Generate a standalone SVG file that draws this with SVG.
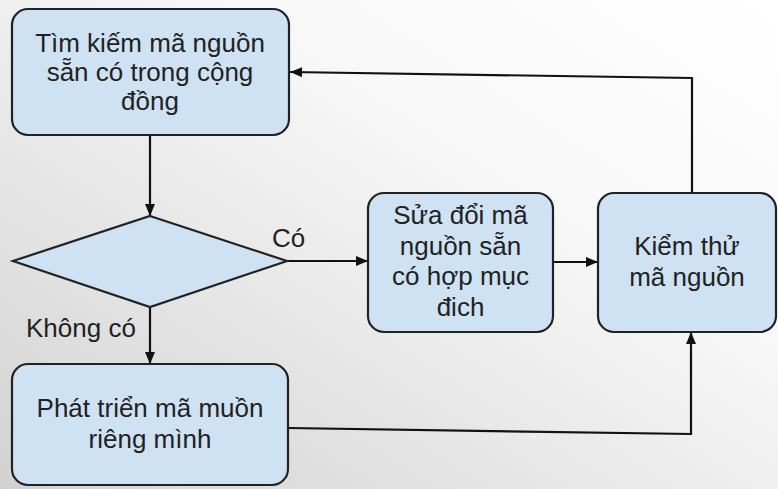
<svg xmlns="http://www.w3.org/2000/svg" width="778" height="489" viewBox="0 0 778 489">
<defs>
<linearGradient id="bg" x1="1" y1="0" x2="0" y2="1">
<stop offset="0" stop-color="#ffffff"/>
<stop offset="0.35" stop-color="#f8f8f8"/>
<stop offset="1" stop-color="#d2d2d2"/>
</linearGradient>
<marker id="arr" viewBox="0 0 12 10" refX="12" refY="5" markerWidth="12" markerHeight="10" markerUnits="userSpaceOnUse" orient="auto">
<path d="M0,0 L12,5 L0,10 Z" fill="#111"/>
</marker>
<style>
.node{fill:#cfe2f3;stroke:#222;stroke-width:2.2}
.t{font-family:"Liberation Sans",Arial,sans-serif;font-size:26px;fill:#222;text-anchor:middle}
.lbl{font-family:"Liberation Sans",Arial,sans-serif;font-size:26px;fill:#222}
.c{fill:none;stroke:#111;stroke-width:2.2}
</style>
</defs>
<rect width="778" height="489" fill="url(#bg)"/>
<g id="connectors">
<path class="c" d="M150,135 L150,216" marker-end="url(#arr)"/>
<path class="c" d="M287,261 L368,261" marker-end="url(#arr)"/>
<path class="c" d="M553,262 L598,262" marker-end="url(#arr)"/>
<path class="c" d="M150,307 L150,364" marker-end="url(#arr)"/>
<path class="c" d="M692,193 L692,78 L290,72" marker-end="url(#arr)"/>
<path class="c" d="M288,428 L691,434 L691,332" marker-end="url(#arr)"/>
</g>
<g id="n1">
<rect class="node" x="12" y="9" width="277" height="126" rx="16"/>
<text class="t" x="150" y="52">Tìm kiếm mã nguồn</text>
<text class="t" x="150" y="81">sẵn có trong cộng</text>
<text class="t" x="150" y="110">đồng</text>
</g>
<g id="decision">
<polygon class="node" points="150,216 287,261 150,307 13,261"/>
</g>
<g id="labels">
<text class="lbl" x="272" y="247">Có</text>
<text class="lbl" x="26" y="337">Không có</text>
</g>
<g id="n2">
<rect class="node" x="368" y="193" width="185" height="139" rx="16"/>
<text class="t" x="460.5" y="224">Sửa đổi mã</text>
<text class="t" x="460.5" y="254.5">nguồn sẵn</text>
<text class="t" x="460.5" y="285">có hợp mục</text>
<text class="t" x="460.5" y="315.5">đich</text>
</g>
<g id="n3">
<rect class="node" x="598" y="193" width="178" height="139" rx="16"/>
<text class="t" x="687" y="255">Kiểm thử</text>
<text class="t" x="687" y="286">mã nguồn</text>
</g>
<g id="n4">
<rect class="node" x="12" y="364" width="276" height="121" rx="16"/>
<text class="t" x="150" y="417">Phát triển mã muồn</text>
<text class="t" x="150" y="448">riêng mình</text>
</g>
</svg>
